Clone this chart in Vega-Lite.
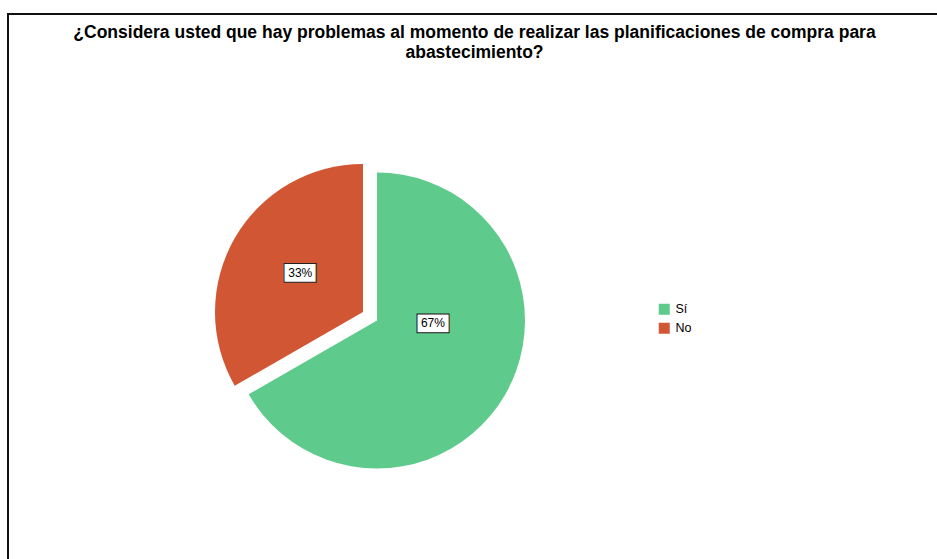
{
  "$schema": "https://vega.github.io/schema/vega-lite/v6.json",
  "width": 933,
  "height": 550,
  "autosize": {"type": "none"},
  "padding": {"left": 8, "top": 14, "right": -4, "bottom": -5},
  "background": "white",
  "config": {
    "view": {"stroke": null},
    "font": "Liberation Sans"
  },
  "title": {
    "text": ["¿Considera usted que hay problemas al momento de realizar las planificaciones de compra para", "abastecimiento?"],
    "font": "Liberation Sans",
    "fontSize": 17.5,
    "fontWeight": "bold",
    "color": "#000000",
    "lineHeight": 19.5,
    "anchor": "middle",
    "offset": -48
  },
  "data": {
    "values": [
      {"respuesta": "Sí", "share": 0.667},
      {"respuesta": "No", "share": 0.333}
    ]
  },
  "transform": [
    {"stack": "share", "groupby": [], "as": ["v0", "v1"], "sort": [{"field": "share", "order": "descending"}]}
  ],
  "layer": [
    {
      "transform": [{"filter": "datum.respuesta === 'Sí'"}],
      "mark": {"type": "rect", "fill": "transparent", "stroke": "#111111", "strokeWidth": 2},
      "encoding": {}
    },
    {
      "transform": [{"filter": "datum.respuesta === 'Sí'"}],
      "mark": {"type": "arc", "outerRadius": 148, "xOffset": -97.5, "yOffset": 31.5},
      "encoding": {
        "theta": {"field": "v0", "type": "quantitative", "stack": null, "scale": {"domain": [0, 1]}},
        "theta2": {"field": "v1"},
        "color": {
          "field": "respuesta",
          "type": "nominal",
          "scale": {"domain": ["Sí", "No"], "range": ["#5ECB8C", "#D15634"]},
          "legend": {
            "orient": "none",
            "legendX": 650,
            "legendY": 289,
            "title": null,
            "symbolType": "square",
            "symbolSize": 121,
            "symbolStrokeWidth": 0,
            "symbolOpacity": 1,
            "labelFont": "Liberation Sans",
            "labelFontSize": 12.5,
            "labelColor": "#000000",
            "labelOffset": 5,
            "rowPadding": 6
          }
        }
      }
    },
    {
      "transform": [{"filter": "datum.respuesta === 'No'"}],
      "mark": {"type": "arc", "outerRadius": 148, "xOffset": -111.5, "yOffset": 23},
      "encoding": {
        "theta": {"field": "v0", "type": "quantitative", "stack": null},
        "theta2": {"field": "v1"},
        "color": {"field": "respuesta", "type": "nominal"}
      }
    },
    {
      "transform": [{"filter": "datum.respuesta === 'Sí'"}],
      "mark": {"type": "text", "text": "█", "font": "Liberation Sans", "fontSize": 26.5, "angle": 90, "fill": "white", "stroke": "#222222", "strokeWidth": 1, "align": "center", "baseline": "middle", "radius": 56, "thetaOffset": 1.623, "xOffset": -97.5, "yOffset": 31.5},
      "encoding": {
        "theta": {"field": "v0", "type": "quantitative", "stack": null}
      }
    },
    {
      "transform": [{"filter": "datum.respuesta === 'Sí'"}],
      "mark": {"type": "text", "font": "Liberation Sans", "fontSize": 12, "fill": "#000000", "align": "center", "baseline": "middle", "radius": 56, "thetaOffset": 1.623, "xOffset": -97.5, "yOffset": 31.5},
      "encoding": {
        "theta": {"field": "v0", "type": "quantitative", "stack": null},
        "text": {"field": "share", "type": "quantitative", "format": ".0%"}
      }
    },
    {
      "transform": [{"filter": "datum.respuesta === 'No'"}],
      "mark": {"type": "text", "text": "█", "font": "Liberation Sans", "fontSize": 26.5, "angle": 90, "fill": "white", "stroke": "#222222", "strokeWidth": 1, "align": "center", "baseline": "middle", "radius": 74, "thetaOffset": 1.08, "xOffset": -111.5, "yOffset": 23},
      "encoding": {
        "theta": {"field": "v0", "type": "quantitative", "stack": null}
      }
    },
    {
      "transform": [{"filter": "datum.respuesta === 'No'"}],
      "mark": {"type": "text", "font": "Liberation Sans", "fontSize": 12, "fill": "#000000", "align": "center", "baseline": "middle", "radius": 74, "thetaOffset": 1.08, "xOffset": -111.5, "yOffset": 23},
      "encoding": {
        "theta": {"field": "v0", "type": "quantitative", "stack": null},
        "text": {"field": "share", "type": "quantitative", "format": ".0%"}
      }
    }
  ]
}
